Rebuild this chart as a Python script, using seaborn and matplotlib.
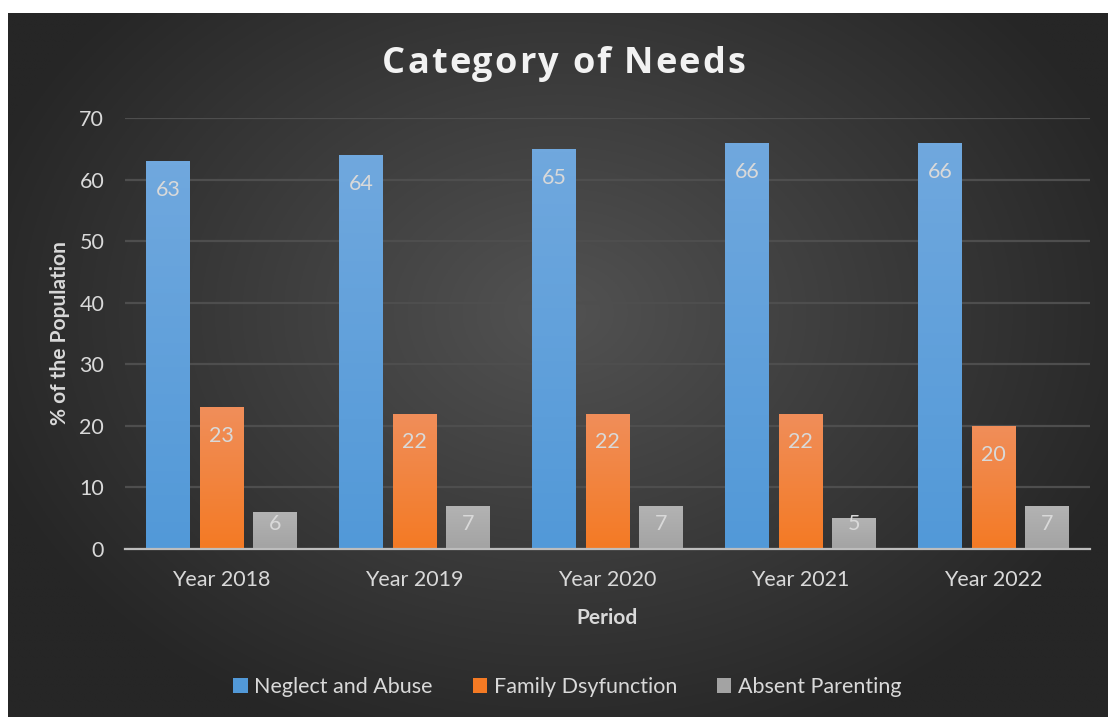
import numpy as np
import pandas as pd
import matplotlib
matplotlib.use("Agg")
import matplotlib.pyplot as plt
import matplotlib.colors as mcolors
from matplotlib.patches import Patch
import seaborn as sns

# Share of the population per category of need, by year
years = ["Year 2018", "Year 2019", "Year 2020", "Year 2021", "Year 2022"]
neglect_abuse = [63, 64, 65, 66, 66]
family_dysfunction = [23, 22, 22, 22, 20]
absent_parenting = [6, 7, 7, 5, 7]
series_names = ["Neglect and Abuse", "Family Dsyfunction", "Absent Parenting"]

df = pd.DataFrame({
    "Period": years * 3,
    "Value": neglect_abuse + family_dysfunction + absent_parenting,
    "Category": [series_names[0]] * 5 + [series_names[1]] * 5 + [series_names[2]] * 5,
})

# (bottom colour, top colour) of each series' vertical gradient
grad = {
    series_names[0]: ("#5299d8", "#70a8de"),
    series_names[1]: ("#f47a24", "#f08e5a"),
    series_names[2]: ("#a3a3a3", "#b3b3b3"),
}
solid = {k: v[0] for k, v in grad.items()}

sns.set_theme(style="white")
FONT = ["Lato", "DejaVu Sans"]
plt.rcParams["font.family"] = FONT
TXT = "#d9d9d9"

W, H = 1108, 717
fig = plt.figure(figsize=(W / 100, H / 100), dpi=100, facecolor="white")

# dark radial background panel
bg = fig.add_axes([8 / W, 0, 1 - 8 / W, 1 - 13 / H], zorder=0)
yy, xx = np.mgrid[0:400, 0:600]
cx, cy = 300, 170
r = np.sqrt(((xx - cx) / 330) ** 2 + ((yy - cy) / 260) ** 2)
r = np.clip(r, 0, 1)
c_in = np.array(mcolors.to_rgb("#525252"))
c_out = np.array(mcolors.to_rgb("#262626"))
img = c_in[None, None, :] * (1 - r[..., None]) + c_out[None, None, :] * r[..., None]
bg.imshow(img, aspect="auto", extent=[0, 1, 0, 1], origin="upper")
bg.set_axis_off()

ax = fig.add_axes([125 / W, 1 - 549 / H, (1090 - 125) / W, (549 - 118) / H], zorder=1)
ax.set_facecolor("none")

sns.barplot(data=df, x="Period", y="Value", hue="Category", hue_order=series_names,
            palette=solid, width=0.83, gap=0.176, ax=ax, legend=False,
            errorbar=None, saturation=1, linewidth=0, edgecolor="none", zorder=3)

ax.set_xlim(-0.5, 4.5)
ax.set_ylim(0, 70)

# gradient fill and value label for each bar
LABEL_DROP = 4.7   # label centre sits this far below the bar top...
LABEL_FLOOR = 4.1  # ...but never lower than this
bars = list(ax.patches)
for i, p in enumerate(bars):
    cat = series_names[i // 5]
    val = df["Value"].iloc[i]
    x0, w, h = p.get_x(), p.get_width(), p.get_height()
    lo, hi = (np.array(mcolors.to_rgb(c)) for c in grad[cat])
    t = np.linspace(1, 0, 100)[:, None, None]
    g = lo * (1 - t) + hi * t
    im = ax.imshow(g, aspect="auto", extent=[x0, x0 + w, 0, h], origin="upper", zorder=3.5)
    im.set_clip_path(p)
    ax.text(x0 + w / 2, max(h - LABEL_DROP, LABEL_FLOOR), f"{val:g}",
            ha="center", va="center", color=TXT, fontsize=15.5, zorder=5)

ax.set_xlim(-0.5, 4.5)
ax.set_ylim(0, 70)
ax.set_yticks(range(0, 71, 10))
ax.grid(axis="y", color="#4e4e4e", linewidth=1.6, zorder=1)
ax.grid(axis="x", visible=False)
for s in ["top", "right", "left"]:
    ax.spines[s].set_visible(False)
ax.spines["bottom"].set_color("#bdbdbd")
ax.spines["bottom"].set_linewidth(1.6)
ax.spines["bottom"].set_zorder(6)
ax.tick_params(axis="both", colors=TXT, labelsize=15.5, length=0)
ax.tick_params(axis="x", pad=15)
ax.tick_params(axis="y", pad=15)

ax.set_xlabel("Period", color=TXT, fontsize=15, fontweight="bold", labelpad=13)
ax.set_ylabel("% of the Population", color=TXT, fontsize=15, fontweight="bold", labelpad=7)

# letter-spaced title, laid out one character at a time
title = "Category of Needs"
tprops = dict(color="#f2f2f2", fontsize=26, fontweight="bold",
              family=["Open Sans", "DejaVu Sans"], va="baseline", ha="left")
renderer = fig.canvas.get_renderer()


def _width(s):
    t = fig.text(0, 0, s + "|", **tprops)
    bar = fig.text(0, 0, "|", **tprops)
    wd = t.get_window_extent(renderer).width - bar.get_window_extent(renderer).width
    t.remove()
    bar.remove()
    return wd


natural = _width(title)
target_left, target_right = 382, 745
track = (target_right - target_left - natural) / (len(title) - 1)
baseline = 1 - 73 / H
for k, ch in enumerate(title):
    if ch == " ":
        continue
    xpx = target_left + _width(title[:k]) + k * track
    fig.text(xpx / W, baseline, ch, **tprops)

handles = [Patch(facecolor=solid[n], edgecolor="none") for n in series_names]
fig.legend(handles, series_names, loc="center", bbox_to_anchor=(0.512, 1 - 687 / H),
           ncol=3, frameon=False, fontsize=15.5, labelcolor=TXT,
           handlelength=0.68, handleheight=0.68, handletextpad=0.3, columnspacing=1.85)

fig.savefig("out.png", dpi=100, facecolor="white")
